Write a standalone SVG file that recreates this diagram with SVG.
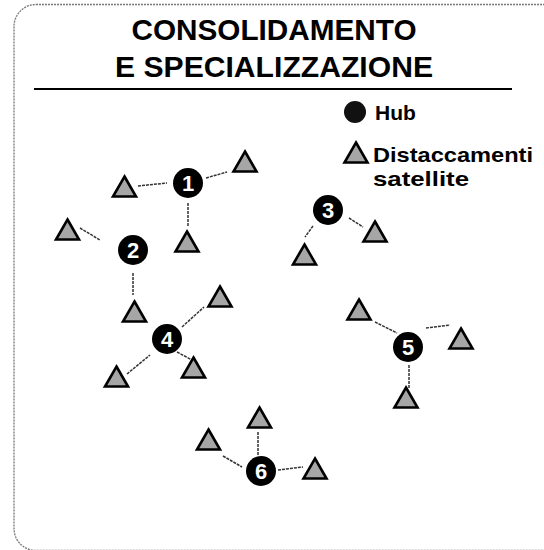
<svg xmlns="http://www.w3.org/2000/svg" width="544" height="550" viewBox="0 0 544 550">
<defs>
<style>
.title{font-family:"Liberation Sans",Arial,sans-serif;font-weight:bold;font-size:30px;fill:#000;text-anchor:middle}
.leg{font-family:"Liberation Sans",Arial,sans-serif;font-weight:bold;font-size:21px;fill:#000}
.hubc{fill:#000}
.num{font-family:"Liberation Sans",Arial,sans-serif;font-weight:bold;font-size:22px;fill:#fff;text-anchor:middle}
.tri{fill:#a6a6a6;stroke:#000;stroke-width:2.6;stroke-linejoin:miter}
.conn line{stroke:#333;stroke-width:1.5;stroke-dasharray:3 1}
</style>
<path id="tri" class="tri" d="M0,-10.5 L11.5,9.5 L-11.5,9.5 Z"/>
</defs>
<rect x="14" y="4.5" width="600" height="546" rx="22" fill="none" stroke="#777" stroke-width="1.3" stroke-dasharray="2 1"/>
<g id="title">
<text class="title" x="274" y="40" textLength="285" lengthAdjust="spacingAndGlyphs">CONSOLIDAMENTO</text>
<text class="title" x="274" y="77" textLength="318" lengthAdjust="spacingAndGlyphs">E SPECIALIZZAZIONE</text>
<line x1="34" y1="89" x2="512" y2="89" stroke="#000" stroke-width="2"/>
</g>
<g id="legend">
<circle cx="355" cy="112" r="11" fill="#111"/>
<text class="leg" x="375" y="120">Hub</text>
<use href="#tri" x="356" y="153"/>
<text class="leg" x="373" y="162" textLength="160" lengthAdjust="spacingAndGlyphs">Distaccamenti</text>
<text class="leg" x="373" y="186" textLength="96" lengthAdjust="spacingAndGlyphs">satellite</text>
</g>
<g class="conn" id="connectors">
<line x1="138" y1="186" x2="167" y2="183"/>
<line x1="206" y1="178" x2="227" y2="172"/>
<line x1="188" y1="203" x2="188" y2="227"/>
<line x1="80" y1="228" x2="100" y2="240"/>
<line x1="133" y1="273" x2="133" y2="295"/>
<line x1="182" y1="327" x2="204" y2="307"/>
<line x1="127" y1="374" x2="150" y2="355"/>
<line x1="177" y1="352" x2="192" y2="360"/>
<line x1="349" y1="218" x2="363" y2="227"/>
<line x1="313" y1="226" x2="305" y2="237"/>
<line x1="375" y1="322" x2="397" y2="333"/>
<line x1="426" y1="328" x2="450" y2="325"/>
<line x1="409" y1="365" x2="409" y2="388"/>
<line x1="258" y1="432" x2="258" y2="455"/>
<line x1="223" y1="456" x2="242" y2="467"/>
<line x1="278" y1="470" x2="303" y2="467"/>
</g>
<g id="satellites">
<use href="#tri" x="124.5" y="187"/>
<use href="#tri" x="245" y="162"/>
<use href="#tri" x="187" y="242"/>
<use href="#tri" x="67.5" y="230"/>
<use href="#tri" x="134.5" y="312"/>
<use href="#tri" x="220" y="297"/>
<use href="#tri" x="116.5" y="377"/>
<use href="#tri" x="193.5" y="368"/>
<use href="#tri" x="375" y="232"/>
<use href="#tri" x="304.5" y="255"/>
<use href="#tri" x="359" y="310"/>
<use href="#tri" x="461" y="339"/>
<use href="#tri" x="406" y="398"/>
<use href="#tri" x="259.5" y="418"/>
<use href="#tri" x="208.5" y="440"/>
<use href="#tri" x="315" y="469"/>
</g>
<g id="hub1"><circle class="hubc" cx="188" cy="183" r="15"/><text class="num" x="188" y="191">1</text></g>
<g id="hub2"><circle class="hubc" cx="133" cy="250" r="15"/><text class="num" x="133" y="258">2</text></g>
<g id="hub3"><circle class="hubc" cx="328" cy="210" r="15"/><text class="num" x="328" y="218">3</text></g>
<g id="hub4"><circle class="hubc" cx="167" cy="339" r="15"/><text class="num" x="167" y="347">4</text></g>
<g id="hub5"><circle class="hubc" cx="408" cy="347" r="15"/><text class="num" x="408" y="355">5</text></g>
<g id="hub6"><circle class="hubc" cx="261" cy="471" r="15"/><text class="num" x="261" y="479">6</text></g>
</svg>
